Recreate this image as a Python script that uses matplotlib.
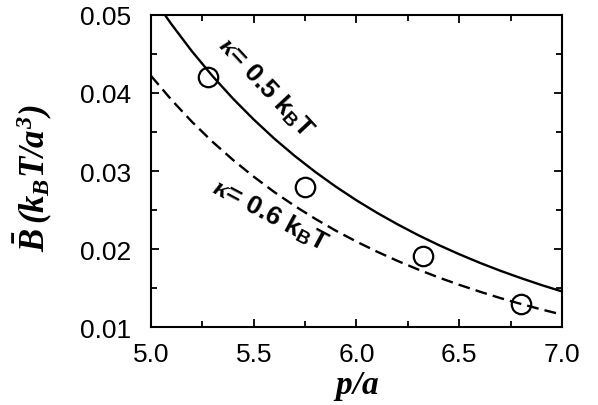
import matplotlib
matplotlib.use('Agg')
import matplotlib.pyplot as plt
from matplotlib.ticker import MultipleLocator, FormatStrFormatter

plt.rcParams['font.family'] = ['Liberation Sans', 'DejaVu Sans']
plt.rcParams['mathtext.fontset'] = 'custom'
plt.rcParams['mathtext.rm'] = 'Liberation Serif:bold:italic'
plt.rcParams['mathtext.it'] = 'Liberation Serif:bold:italic'
plt.rcParams['mathtext.bf'] = 'Liberation Serif:bold:italic'
plt.rcParams['mathtext.sf'] = 'Liberation Sans:bold'

# theory curves: kappa = 0.5 kT (solid) and 0.6 kT (dashed)
p_solid = [5.068, 5.1, 5.2, 5.3, 5.4, 5.5, 5.6, 5.7, 5.8, 5.9, 6.0,
           6.1, 6.2, 6.3, 6.4, 6.5, 6.6, 6.7, 6.8, 6.9, 7.0]
B_solid = [0.0500, 0.0488, 0.04532, 0.04215, 0.03925, 0.0366, 0.03415,
           0.03192, 0.02987, 0.02798, 0.02624, 0.02464, 0.02316, 0.02178,
           0.02051, 0.01933, 0.01823, 0.01721, 0.01627, 0.01538, 0.01456]

p_dash = [5.0, 5.1, 5.2, 5.3, 5.4, 5.5, 5.6, 5.7, 5.8, 5.9, 6.0,
          6.1, 6.2, 6.3, 6.4, 6.5, 6.6, 6.7, 6.8, 6.9, 7.0]
B_dash = [0.0422, 0.03911, 0.03629, 0.03373, 0.0314, 0.02927, 0.0273,
          0.02551, 0.02386, 0.02234, 0.02095, 0.01966, 0.01847, 0.01737,
          0.01635, 0.01541, 0.01453, 0.01371, 0.01296, 0.01225, 0.01159]

# simulation points
p_sim = [5.279, 5.749, 6.325, 6.799]
B_sim = [0.0421, 0.0280, 0.0191, 0.0129]

fig = plt.figure(figsize=(5.98, 4.06), dpi=100)
ax = fig.add_axes([0.2525, 0.1921, 0.6873, 0.7685])

ax.plot(p_solid, B_solid, color='black', lw=1.7)
ax.plot(p_dash, B_dash, color='black', lw=1.7, dashes=(5, 2.6))
ax.plot(p_sim, B_sim, 'o', mfc='none', mec='black', mew=1.6, ms=14)

ax.set_xlim(5.0, 7.0)
ax.set_ylim(0.01, 0.05)
ax.xaxis.set_major_locator(MultipleLocator(0.5))
ax.xaxis.set_minor_locator(MultipleLocator(0.25))
ax.yaxis.set_major_locator(MultipleLocator(0.01))
ax.yaxis.set_minor_locator(MultipleLocator(0.005))
ax.xaxis.set_major_formatter(FormatStrFormatter('%.1f'))
ax.yaxis.set_major_formatter(FormatStrFormatter('%.2f'))
ax.tick_params(which='both', direction='in', top=True, right=True,
               labelsize=19, width=1.3)
ax.tick_params(which='major', length=6)
ax.tick_params(axis='x', which='major', pad=11)
ax.tick_params(axis='y', which='major', pad=14)
ax.tick_params(which='minor', length=4)
for s in ax.spines.values():
    s.set_linewidth(1.5)

ax.set_xlabel(r'$p/a$', fontsize=24)
ax.xaxis.set_label_coords(0.5, -0.135)
ax.set_ylabel(r'$\bar{B}\,(k_B T/a^3)$', fontsize=25)
ax.yaxis.set_label_coords(-0.235, 0.48)

ax.text(5.56, 0.0409, r'$\kappa$= 0.5 k$_\mathsf{B}$T', rotation=-47,
        fontsize=19, fontweight='bold', ha='center', va='center')
ax.text(5.58, 0.0245, r'$\kappa$= 0.6 k$_\mathsf{B}$T', rotation=-28,
        fontsize=19, fontweight='bold', ha='center', va='center')

fig.savefig('out.png', dpi=100)
